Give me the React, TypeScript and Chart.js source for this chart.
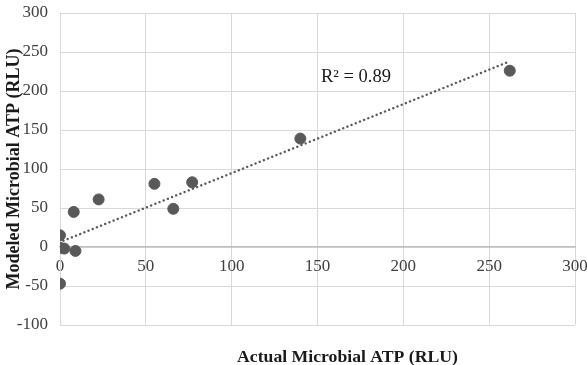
import React, { useEffect, useRef } from 'react';
import { Chart, registerables } from 'chart.js';
Chart.register(...registerables);

const actualATP = [0, 0, 2.5, 9, 0, 8, 22.5, 55, 66, 77, 140, 262];
const modeledATP = [15, -1, -2, -5, -47, 45, 61, 81, 49, 83, 139, 226];
const trendActual = [2, 262];
const trendModeled = [8, 238];
const xTickValues = [0, 50, 100, 150, 200, 250, 300];
const yTickValues = [-100, -50, 0, 50, 100, 150, 200, 250, 300];
const r2Text = 'R² = 0.89';
const xTitle = 'Actual Microbial ATP (RLU)';
const yTitle = 'Modeled Microbial ATP (RLU)';

const SERIF = '"Liberation Serif", "Times New Roman", serif';

const annotationPlugin = {
  id: 'annotations',
  afterDraw(chart: any) {
    const { ctx, chartArea, scales } = chart;
    ctx.save();
    ctx.fillStyle = '#1a1a1a';
    ctx.font = `18.5px ${SERIF}`;
    ctx.textAlign = 'left';
    ctx.textBaseline = 'middle';
    ctx.fillText(r2Text, scales.x.getPixelForValue(152), scales.y.getPixelForValue(218));
    ctx.font = `bold 17.7px ${SERIF}`;
    ctx.textAlign = 'center';
    ctx.fillText(xTitle, (chartArea.left + chartArea.right) / 2 + 30, chart.height - 8);
    ctx.restore();
  },
};

export default function App() {
  const ref = useRef<HTMLCanvasElement>(null);
  useEffect(() => {
    document.body.style.margin = '0';
    const chart = new Chart(ref.current!, {
      type: 'scatter',
      data: {
        datasets: [
          {
            type: 'line',
            data: trendActual.map((x, i) => ({ x, y: trendModeled[i] })),
            borderColor: '#595959',
            borderWidth: 2.4,
            borderDash: [0.1, 4.4],
            borderCapStyle: 'round',
            pointRadius: 0,
            fill: false,
            order: 0,
          },
          {
            data: actualATP.map((x, i) => ({ x, y: modeledATP[i] })),
            backgroundColor: '#595959',
            borderColor: '#595959',
            pointRadius: 5.5,
            pointHoverRadius: 5.5,
            order: 1,
          },
        ],
      },
      options: {
        animation: false,
        responsive: false,
        maintainAspectRatio: false,
        layout: { padding: { top: 13, right: 12, bottom: 40, left: 0 } },
        plugins: { legend: { display: false }, tooltip: { enabled: false } },
        scales: {
          x: {
            type: 'linear',
            position: { y: 0 },
            min: 0,
            max: 300,
            afterBuildTicks: (s: any) => { s.ticks = xTickValues.map((v) => ({ value: v })); },
            afterFit: (s: any) => { s.paddingLeft = 0; s.paddingRight = 0; },
            grid: { color: '#d9d9d9', lineWidth: 1, drawTicks: false },
            border: { display: true, color: '#bfbfbf', width: 1.5 },
            ticks: { color: '#404040', padding: 9, font: { family: SERIF, size: 17 }, maxRotation: 0 },
          },
          y: {
            type: 'linear',
            min: -100,
            max: 300,
            afterBuildTicks: (s: any) => { s.ticks = yTickValues.map((v) => ({ value: v })); },
            afterFit: (s: any) => { s.width = 60; s.paddingTop = 0; s.paddingBottom = 0; },
            grid: {
              color: (c: any) => (c.tick && c.tick.value === 0 ? '#bfbfbf' : '#d9d9d9'),
              lineWidth: (c: any) => (c.tick && c.tick.value === 0 ? 1.5 : 1),
              drawTicks: false,
            },
            border: { display: true, color: '#d9d9d9', width: 1 },
            ticks: { color: '#404040', padding: 12, font: { family: SERIF, size: 17 } },
            title: {
              display: true,
              text: yTitle,
              color: '#1a1a1a',
              font: { family: SERIF, size: 18, weight: 'bold' },
              padding: { top: 4, bottom: 0 },
            },
          },
        },
      },
      plugins: [annotationPlugin],
    } as any);
    return () => chart.destroy();
  }, []);
  return <canvas ref={ref} width={587} height={365} style={{ display: 'block' }} />;
}
